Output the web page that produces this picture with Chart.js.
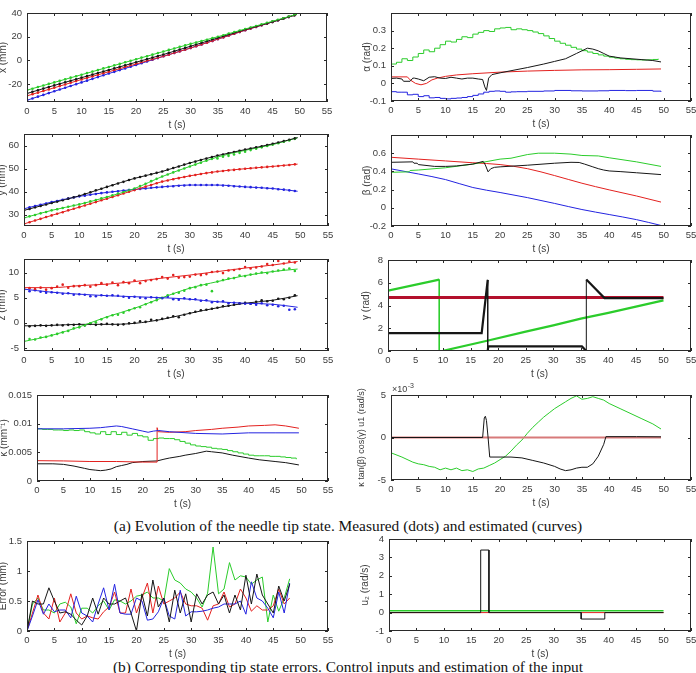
<!DOCTYPE html>
<html>
<head>
<meta charset="utf-8">
<script src="https://cdn.jsdelivr.net/npm/chart.js@4.4.1/dist/chart.umd.min.js"></script>
<style>
  html, body { margin: 0; padding: 0; background: #fff; width: 696px; height: 673px; overflow: hidden; position: relative; }
  canvas { position: absolute; }
  .cap { position: absolute; left: 0; width: 696px; text-align: center; white-space: nowrap;
         font-family: "Liberation Serif", "DejaVu Serif", serif; font-size: 15.4px; color: #111; }
</style>
</head>
<body>
<div class="cap" style="top:517px">(a) Evolution of the needle tip state. Measured (dots) and estimated (curves)</div>
<div class="cap" style="top:658px">(b) Corresponding tip state errors. Control inputs and estimation of the input</div>
<script>
// ---- shared time axis ----
const tTicks = [0, 5, 10, 15, 20, 25, 30, 35, 40, 45, 50, 55];
const tEst = [0, 5, 10, 15, 20, 25, 30, 35, 40, 45, 49.5];
const tMeas = [0,1,2,3,4,5,6,7,8,9,10,11,12,13,14,15,16,17,18,19,20,21,22,23,24,25,26,27,28,29,30,31,32,33,34,35,36,37,38,39,40,41,42,43,44,45,46,47,48,49];

// ---- x (mm) ----
const xTicks = [-20, 0, 20, 40];
const xEstG = [-25, -18.5, -12, -5.5, 1, 7.5, 14, 20, 26.5, 33, 39];
const xEstK = [-27.8, -21, -14.5, -8, -1.5, 5, 12, 19, 26, 32.5, 38.8];
const xEstR = [-29.8, -23, -16, -9.5, -3, 3.5, 10.5, 18, 25.5, 32.5, 38.8];
const xEstB = [-33.5, -26, -18.5, -11, -3.8, 3.5, 10.5, 18, 25.5, 32.5, 38.8];
const xMeasG = [-25,-23.8,-22.3,-21.1,-19.7,-18.5,-17.1,-15.9,-14.5,-13.3,-12,-10.6,-9.4,-8.1,-6.7,-5.5,-4.1,-2.9,-1.5,-0.3,1,2.4,3.6,4.9,6.3,7.5,8.9,10.1,11.5,12.7,14,15.1,16.3,17.5,18.8,20,21.3,22.6,23.9,25.2,26.5,27.8,29.1,30.4,31.7,33,34.3,35.6,37,38.3];
const xMeasK = [-27.8,-26.4,-25.1,-23.7,-22.4,-21,-19.7,-18.4,-17.1,-15.8,-14.5,-13.2,-11.9,-10.6,-9.3,-8,-6.7,-5.4,-4.1,-2.8,-1.5,-0.2,1.1,2.4,3.7,5,6.4,7.8,9.2,10.6,12,13.4,14.8,16.2,17.6,19,20.4,21.8,23.2,24.6,26,27.3,28.6,29.9,31.2,32.5,33.9,35.3,36.7,38.1];
const xMeasR = [-29.8,-28.4,-27.1,-25.7,-24.4,-23,-21.6,-20.2,-18.8,-17.4,-16,-14.7,-13.4,-12.1,-10.8,-9.5,-8.2,-6.9,-5.6,-4.3,-3,-1.7,-0.4,0.9,2.2,3.5,4.9,6.3,7.7,9.1,10.5,12,13.5,15,16.5,18,19.5,21,22.5,24,25.5,26.9,28.3,29.7,31.1,32.5,33.9,35.3,36.7,38.1];
const xMeasB = [-33.5,-32,-30.5,-29,-27.5,-26,-24.5,-23,-21.5,-20,-18.5,-17,-15.5,-14,-12.5,-11,-9.6,-8.1,-6.7,-5.2,-3.8,-2.3,-0.9,0.6,2,3.5,4.9,6.3,7.7,9.1,10.5,12,13.5,15,16.5,18,19.5,21,22.5,24,25.5,26.9,28.3,29.7,31.1,32.5,33.9,35.3,36.7,38.1];

// ---- y (mm) ----
const yTicks = [30, 40, 50, 60];
const yEstK = [31.8, 35, 38.1, 42, 45.7, 48.7, 52.4, 55.6, 58.2, 60.7, 63.4];
const yEstG = [28.5, 31.8, 34.4, 37.6, 41.3, 46.5, 50.9, 55, 57.9, 60.4, 63.4];
const yEstR = [25.9, 29.6, 33.2, 36.9, 40.6, 44.3, 46.8, 48.7, 49.9, 50.9, 51.9];
const yEstB = [32.5, 35.4, 37.9, 39.6, 40.9, 42, 42.8, 42.8, 42, 41.3, 40.1];
const yMeasK = [31.8,32.4,33.1,33.7,34.4,35,35.6,36.2,36.9,37.5,38.1,38.9,39.7,40.5,41.2,42,42.7,43.5,44.2,45,45.7,46.3,46.9,47.5,48.1,48.7,49.5,50.2,50.9,51.7,52.4,53,53.7,54.3,55,55.6,56.1,56.6,57.2,57.7,58.2,58.7,59.2,59.7,60.2,60.7,61.3,61.9,62.5,63.1];
const yMeasG = [28.5,29.2,29.8,30.5,31.1,31.8,32.3,32.8,33.4,33.9,34.4,35,35.7,36.3,37,37.6,38.3,39.1,39.8,40.6,41.3,42.4,43.4,44.5,45.5,46.5,47.4,48.3,49.1,50,50.9,51.7,52.5,53.4,54.2,54.4,55.1,55.5,56.1,56.8,57.3,58,58.6,59.2,59.8,60.4,61,61.6,62.2,62.9];
const yMeasR = [25.9,26.6,27.4,28.1,28.9,29.6,30.3,31,31.8,32.5,33.2,33.9,34.7,35.4,36.2,36.9,37.6,38.4,39.1,39.9,40.6,41.3,42.1,42.8,43.6,44.3,44.8,45.3,45.8,46.3,46.8,47.2,47.6,48,48.3,48.7,48.9,49.2,49.4,49.7,49.9,50.1,50.3,50.5,50.7,50.9,51.1,51.3,51.5,51.8];
const yMeasB = [32.5,33.1,33.7,34.2,34.8,35.4,35.9,36.4,36.9,37.4,37.9,38.2,38.6,38.9,39.3,39.6,39.9,40.1,40.4,40.6,40.9,41.1,41.3,41.6,41.8,42,42.2,42.3,42.5,42.6,42.8,42.8,42.8,42.8,42.8,42.8,42.6,42.5,42.3,42.2,42,41.9,41.7,41.6,41.4,41.3,41,40.8,40.5,40.2];

// ---- z (mm) ----
const zTicks = [-5, 0, 5, 10];
const zEstR = [7, 7, 7.4, 7.7, 8.2, 8.9, 9.5, 10.2, 10.9, 11.5, 12.2];
const zEstB = [6.7, 6.1, 5.7, 5.4, 5.2, 5, 4.7, 4.2, 3.9, 3.7, 3.1];
const zEstG = [-3.7, -2.5, -0.8, 1.2, 2.9, 5, 6.9, 8.2, 9.4, 10.2, 10.7];
const zEstK = [-0.6, -0.5, -0.3, -0.3, -0.1, 0.7, 1.9, 3, 3.9, 4.5, 5.4];
const zMeasR = [6.8,6.9,6.7,7.0,6.6,6.9,7.2,7.6,7.0,7.3,7.3,7.5,7.2,7.5,7.9,7.6,8.0,7.5,8.1,7.9,8.4,7.9,8.3,8.5,8.7,9.1,8.8,9.5,9.0,9.1,9.2,9.6,9.5,9.7,10.1,10.2,9.9,10.4,10.5,10.7,11.1,10.8,11.0,11.2,11.7,11.5,12.3,11.8,12.2,12.0];
const zMeasB = [6.6,6.3,6.5,6.2,6.0,6.1,6.0,5.8,5.9,5.6,5.7,5.6,5.3,5.3,5.5,5.4,5.5,5.4,5.2,5.0,5.2,5.0,4.9,5.1,5.0,4.9,5.2,4.7,4.6,4.9,4.7,4.7,4.4,4.5,4.1,4.2,4.3,3.9,4.0,3.8,3.8,3.8,3.6,3.9,3.5,3.6,3.3,3.4,2.6,2.7];
const zMeasG = [-3.6,-3.2,-3.3,-2.9,-2.8,-2.5,-2.2,-1.9,-1.6,-1.1,-0.9,-0.5,-0.1,0.1,0.7,1.1,1.5,1.6,2.0,2.5,2.9,3.1,3.7,4.1,4.5,5.0,5.5,5.8,6.0,6.4,6.9,7.1,7.5,7.6,6.3,8.2,8.5,8.8,8.9,9.4,9.3,9.6,9.8,10.0,9.9,10.2,10.4,10.6,10.8,10.3];
const zMeasK = [-0.5,-0.7,-0.6,-0.5,-0.6,-0.5,-0.4,-0.5,-0.4,-0.4,-0.3,-0.5,-0.2,-0.4,-0.3,-0.2,-0.3,-0.4,-0.3,-0.1,0,0.3,0.2,0.6,0.5,0.8,1.0,1.3,1.1,1.6,1.9,2.2,2.5,2.6,2.8,3.0,3.3,3.4,3.6,3.9,4.0,3.8,4.2,4.5,4.3,4.4,4.8,4.7,5.0,5.5];

// ---- alpha (rad) ----
const aTicks = [-0.1, 0, 0.1, 0.2, 0.3];
const aGreen = [0.11,0.12,0.14,0.13,0.15,0.17,0.19,0.18,0.20,0.22,0.24,0.235,0.25,0.265,0.26,0.28,0.29,0.30,0.295,0.31,0.315,0.318,0.305,0.31,0.305,0.30,0.292,0.283,0.27,0.255,0.24,0.228,0.217,0.205,0.195,0.186,0.178,0.17,0.162,0.155,0.149,0.144,0.14,0.137,0.135,0.134,0.133,0.134,0.136,0.14];
const aRedT = [0,3,3.5,4.5,5.5,6.5,7.5,8.5,10,12,15,20,25,30,35,40,45,49.5];
const aRed = [0.037,0.037,0.02,0.0,-0.008,0.0,0.02,0.03,0.04,0.048,0.055,0.064,0.07,0.074,0.077,0.078,0.08,0.082];
const aBlkT = [0,1,2,2.3,3.5,4,4.3,5,6,7,8,9,10,11,12,13,14,15,16,16.8,17.2,17.5,17.9,18.5,20,22,25,28,30,32,33,34,35,36,37,38,39,40,42,44,46,48,49.5];
const aBlk = [0.028,0.03,0.025,0.012,0.012,0.03,0.03,0.025,0.015,0.035,0.038,0.03,0.028,0.035,0.03,0.025,0.03,0.03,0.025,0.022,-0.02,-0.04,0.03,0.05,0.06,0.072,0.09,0.11,0.125,0.14,0.155,0.17,0.185,0.2,0.195,0.185,0.17,0.155,0.145,0.14,0.135,0.13,0.122];
const aBluT = [0,1,2,3,4,5,6,7,8,9,10,11,12,13,14,15,16,17,18,19,20,21,22,23,25,28,30,33,35,38,40,43,45,48,49.5];
const aBlu = [-0.047,-0.05,-0.05,-0.065,-0.062,-0.075,-0.07,-0.082,-0.08,-0.085,-0.088,-0.085,-0.083,-0.08,-0.075,-0.068,-0.06,-0.05,-0.045,-0.043,-0.045,-0.05,-0.048,-0.047,-0.045,-0.043,-0.04,-0.042,-0.043,-0.042,-0.04,-0.041,-0.04,-0.044,-0.048];

// ---- beta (rad) ----
const bTicks = [-0.2, 0, 0.2, 0.4, 0.6];
const bRed = [0.555, 0.535, 0.515, 0.495, 0.475, 0.43, 0.354, 0.27, 0.197, 0.13, 0.063];
const bBlu = [0.428, 0.372, 0.31, 0.223, 0.168, 0.112, 0.048, -0.019, -0.074, -0.13, -0.194];
const bGrnT = [0,3.3,3.5,5,10,15,20,22,25,27,30,33,35,38,40,45,49.5];
const bGrn = [0.39,0.395,0.41,0.415,0.44,0.48,0.535,0.545,0.585,0.6,0.6,0.59,0.575,0.57,0.55,0.505,0.455];
const bBlkT = [0,4,4.2,4.8,5,8,10,12,15,16.9,17.3,17.8,18.3,19,20,25,30,33,34.5,35.5,37,38,39,40,42,45,49.5];
const bBlk = [0.5,0.505,0.49,0.49,0.475,0.455,0.455,0.46,0.48,0.51,0.47,0.395,0.43,0.445,0.45,0.468,0.49,0.5,0.498,0.48,0.45,0.43,0.415,0.405,0.398,0.385,0.365];

// ---- gamma (rad) ----
const gTicks = [0, 2, 4, 6, 8];
const gRedT = [0, 50];
const gRed = [4.71, 4.71];
const gGrnT = [0, 9.3, 9.3, 10, 18, 25, 30, 35, 40, 45, 50];
const gGrn = [5.3, 6.28, 0, 0.02, 0.9, 1.7, 2.25, 2.85, 3.35, 3.9, 4.45];
const gBlkT = [0, 17, 18.1, 18.1, 18.2, 35.2, 36, 36, 39.3, 50];
const gBlk = [1.57, 1.57, 6.25, 0, 0.4, 0.4, 0, 6.28, 4.65, 4.65];

// ---- kappa (mm^-1) ----
const kTicks = [0, 0.005, 0.01, 0.015];
const kBluT = [0,5,10,12,13,14,15,16,17,18,20,21,22,23,25,30,35,40,45,49.5];
const kBlu = [0.0091,0.0091,0.0092,0.0093,0.0094,0.0095,0.0096,0.0095,0.0093,0.0091,0.0087,0.0085,0.0087,0.0088,0.0086,0.0083,0.0082,0.0084,0.0084,0.0084];
const kRedT = [0,5,10,15,20,22.7,22.7,22.9,25,28,30,33,35,38,40,43,45,47,49.5];
const kRed = [0.00355,0.0035,0.0034,0.0034,0.0033,0.0033,0.0093,0.0086,0.0085,0.0086,0.0088,0.009,0.0092,0.0094,0.0096,0.0097,0.0098,0.0096,0.0092];
const kGrn = [0.0091,0.009,0.009,0.0089,0.0089,0.0088,0.0089,0.0088,0.0089,0.0086,0.0084,0.0082,0.0086,0.0081,0.0086,0.0081,0.0085,0.008,0.0083,0.0079,0.0077,0.0071,0.0074,0.0075,0.0074,0.0074,0.0072,0.0069,0.0066,0.0063,0.0061,0.006,0.0059,0.0057,0.0056,0.0055,0.0053,0.0051,0.0049,0.0047,0.0045,0.0044,0.0044,0.0044,0.0043,0.0043,0.0042,0.0041,0.004,0.0038];
const kBlkT = [0,3,5,7,9,10,11,12,13,14,15,16,17,18,20,22.7,24,25,27,28,30,31,32,33,35,37,40,42,45,47,49.5];
const kBlk = [0.003,0.003,0.0029,0.0026,0.0022,0.002,0.0019,0.0018,0.0019,0.0021,0.0025,0.0027,0.0029,0.0032,0.0034,0.0035,0.0038,0.004,0.0043,0.0045,0.0048,0.005,0.0052,0.0051,0.0049,0.0045,0.004,0.0037,0.0034,0.0032,0.0028];

// ---- kappa tan(beta) cos(gamma) u1, in units of 1e-3 rad/s ----
const uTicks = [-5, 0, 5];
const uRedT = [0, 49.5];
const uRed = [0, 0];
const uBlkT = [0,16.8,17.1,17.3,17.5,17.8,18.1,20,22,24,26,28,30,31,32,33,34,35,36,37,38,39,39.4,45,49.5];
const uBlk = [0,0,2.3,2.5,2.0,0,-2.3,-2.3,-2.3,-2.4,-2.7,-3.0,-3.4,-3.7,-3.9,-3.8,-3.6,-3.5,-3.5,-3.1,-2.2,-0.8,0.1,0.1,0.08];
const uGrnT = [0,2,4,5,6,7,8,9,10,11,12,13,14,15,16,17,18,19,20,21,22,23,24,25,26,27,28,29,30,31,32,33,34,35,36,37,38,39,40,42,44,46,48,49.5];
const uGrn = [-1.8,-2.3,-2.9,-3.1,-3.2,-3.4,-3.5,-3.8,-3.6,-3.8,-3.6,-3.9,-3.8,-4.0,-3.7,-3.6,-3.3,-3.0,-2.6,-2.2,-1.6,-0.9,-0.3,0.5,1.2,1.8,2.4,2.9,3.4,3.8,4.2,4.6,4.9,4.5,4.6,4.8,4.6,4.4,4.0,3.4,2.8,2.2,1.6,1.0];

// ---- error (mm) ----
const eTicks = [0, 0.5, 1, 1.5];
const eT = [0,1,2,3,4,5,6,7,8,9,10,11,12,13,14,15,16,17,18,19,20,21,22,23,24,25,26,27,28,29,30,31,32,33,34,35,36,37,38,39,40,41,42,43,44,45,46,47,48];
const eGrn = [0,0.45,0.55,0.35,0.35,0.3,0.45,0.48,0.4,0.12,0.38,0.38,0.3,0.42,0.5,0.35,0.52,0.5,0.45,0.5,0.58,0.6,0.65,0.55,0.55,0.5,1.04,0.85,0.8,0.7,0.65,0.55,0.4,0.63,1.4,0.62,0.7,1.14,0.85,0.92,0.9,0.78,0.85,0.9,0.15,0.6,0.33,0.55,0.87];
const eRed = [0,0.3,0.6,0.3,0.2,0.55,0.15,0.3,0.62,0.3,0.2,0.25,0.22,0.2,0.32,0.4,0.65,0.3,0.3,0.7,0.3,0.55,0.8,0.3,0.75,0.45,0.5,0.55,0.65,0.45,0.42,0.42,0.38,0.18,0.42,0.45,0.65,0.4,0.45,0.7,0.55,0.33,0.42,0.35,0.35,0.42,0.7,0.45,0.55];
const eBlu = [0,0.25,0.52,0.28,0.45,0.32,0.35,0.35,0.22,0.58,0.3,0.25,0.15,0.45,0.72,0.35,0.78,0.3,0.28,0.28,0.55,0.5,0.18,0.2,0.32,0.55,0.25,0.2,0.68,0.25,0.32,0.32,0.33,0.35,0.38,0.4,0.45,0.45,0.45,0.5,0.28,0.82,0.55,0.5,0.38,0.22,0.65,0.3,0.8];
const eBlk = [0,0.5,0.45,0.45,0.72,0.5,0.3,0.32,0.28,0.18,0.1,0.25,0.55,0.28,0.55,0.45,0.45,0.5,0.55,0.3,0.0,0.62,0.25,0.85,0.4,0.55,0.15,0.68,0.3,0.62,0.15,0.62,0.45,0.6,0.65,0.45,0.6,0.3,0.6,0.35,0.93,0.45,0.95,0.6,0.45,0.3,0.75,0.5,0.78];

// ---- u2 (rad/s) ----
const u2Ticks = [-1, 0, 1, 2, 3, 4];
const u2GrnT = [0, 50];
const u2Grn = [0.1, 0.1];
const u2RedT = [0, 50];
const u2Red = [0, 0];
const u2BlkT = [0, 16.7, 16.7, 18.2, 18.2, 35, 35, 39.3, 39.3, 50];
const u2Blk = [0, 0, 3.4, 3.4, 0, 0, -0.35, -0.35, 0, 0];

// ---- style ----
const RED = '#e3211f', GRN = '#2bcc2b', BLU = '#2323e0', BLK = '#161616';
const FONT = '"Liberation Sans", Arial, sans-serif';
const AXC = '#3c3c3c';

const pts = (ts, ys) => ts.map((t, i) => ({ x: t, y: ys[i] }));
const curve = (ts, ys, color, extra = {}) => ({
  data: pts(ts, ys), borderColor: color, borderWidth: 1, pointRadius: 0, fill: false, ...extra
});
const smooth = (ys, color) => curve(tEst, ys, color, { cubicInterpolationMode: 'monotone' });
const dots = (ys, color) => ({
  data: pts(tMeas, ys), showLine: false, pointRadius: 1.3, pointBorderWidth: 0,
  pointBackgroundColor: color, borderColor: color
});

// box around plot with inward ticks, like the original axes
const frame = {
  id: 'frame',
  afterDatasetsDraw(chart) {
    const { ctx, chartArea: a, scales: { x, y } } = chart;
    ctx.save();
    ctx.strokeStyle = '#2a2a2a';
    ctx.lineWidth = 1;
    ctx.strokeRect(a.left + 0.5, a.top + 0.5, a.right - a.left - 1, a.bottom - a.top - 1);
    ctx.beginPath();
    x.ticks.forEach(t => {
      const p = Math.round(x.getPixelForValue(t.value)) + 0.5;
      ctx.moveTo(p, a.bottom); ctx.lineTo(p, a.bottom - 3);
      ctx.moveTo(p, a.top); ctx.lineTo(p, a.top + 3);
    });
    y.ticks.forEach(t => {
      const p = Math.round(y.getPixelForValue(t.value)) + 0.5;
      ctx.moveTo(a.left, p); ctx.lineTo(a.left + 3, p);
      ctx.moveTo(a.right, p); ctx.lineTo(a.right - 3, p);
    });
    ctx.stroke();
    ctx.restore();
  }
};

// "x10^-3" multiplier above the kappa*tan*cos axis
const expLabel = {
  id: 'expLabel',
  afterDraw(chart) {
    const { ctx, chartArea: a } = chart;
    ctx.save();
    ctx.fillStyle = AXC;
    ctx.font = '9px ' + FONT;
    ctx.fillText('\u00d710', a.left + 1, a.top - 3);
    const w = ctx.measureText('\u00d710').width;
    ctx.font = '7px ' + FONT;
    ctx.fillText('-3', a.left + 1 + w + 0.5, a.top - 7);
    ctx.restore();
  }
};

function makePanel(box, yOff, yLabel, yMin, yMax, yTicksArr, datasets, opts = {}) {
  const padL = yOff + 7, padT = opts.padT || 20, padR = 8, padB = 30;
  const [l, t, r, b] = box;
  const w = r - l + padL + padR, h = b - t + padT + padB;
  const cv = document.createElement('canvas');
  cv.width = w; cv.height = h;
  cv.style.width = w + 'px'; cv.style.height = h + 'px';
  cv.style.left = (l - padL) + 'px'; cv.style.top = (t - padT) + 'px';
  document.body.appendChild(cv);
  return new Chart(cv.getContext('2d'), {
    type: 'line',
    data: { datasets },
    options: {
      responsive: false, animation: false, devicePixelRatio: 1,
      layout: { padding: { top: padT, right: padR, left: 0, bottom: 0 } },
      plugins: { legend: { display: false }, tooltip: { enabled: false } },
      scales: {
        x: {
          type: 'linear', min: 0, max: 55,
          afterBuildTicks: s => { s.ticks = tTicks.map(v => ({ value: v })); },
          afterFit: s => { s.height = padB; s.paddingLeft = 0; s.paddingRight = 0; },
          grid: { display: false, drawTicks: false }, border: { display: false },
          ticks: { padding: 4, autoSkip: false, maxRotation: 0, color: AXC, font: { family: FONT, size: 9.5 } },
          title: { display: true, text: 't (s)', color: AXC, font: { family: FONT, size: 10 }, padding: { top: 0, bottom: 1 } }
        },
        y: {
          type: 'linear', min: yMin, max: yMax,
          afterBuildTicks: s => { s.ticks = yTicksArr.map(v => ({ value: v })); },
          afterFit: s => { s.width = padL; s.paddingTop = 0; s.paddingBottom = 0; },
          grid: { display: false, drawTicks: false }, border: { display: false },
          ticks: { padding: 5, autoSkip: false, color: AXC, font: { family: FONT, size: 9.5 }, callback: v => String(v) },
          title: { display: true, text: yLabel, color: AXC, font: { family: FONT, size: opts.titleSize || 10 }, padding: { top: 1, bottom: 0 } }
        }
      }
    },
    plugins: [frame].concat(opts.plugins || [])
  });
}

// left column
makePanel([27, 13, 327, 102], 24, 'x (mm)', -35, 40, xTicks, [
  smooth(xEstG, GRN), smooth(xEstK, BLK), smooth(xEstR, RED), smooth(xEstB, BLU),
  dots(xMeasG, GRN), dots(xMeasK, BLK), dots(xMeasR, RED), dots(xMeasB, BLU)
]);
makePanel([24, 134, 328, 226], 22, 'y (mm)', 25, 65, yTicks, [
  smooth(yEstK, BLK), smooth(yEstG, GRN), smooth(yEstR, RED), smooth(yEstB, BLU),
  dots(yMeasK, BLK), dots(yMeasG, GRN), dots(yMeasR, RED), dots(yMeasB, BLU)
]);
makePanel([24, 259, 328, 351], 22, 'z (mm)', -5.6, 12.7, zTicks, [
  smooth(zEstR, RED), smooth(zEstB, BLU), smooth(zEstG, GRN), smooth(zEstK, BLK),
  dots(zMeasR, RED), dots(zMeasB, BLU), dots(zMeasG, GRN), dots(zMeasK, BLK)
]);
makePanel([37, 395, 328, 481], 33, '\u03ba (mm\u207b\u00b9)', 0, 0.015, kTicks, [
  curve(kBluT, kBlu, BLU), curve(kRedT, kRed, RED),
  curve(tMeas, kGrn, GRN, { stepped: true }), curve(kBlkT, kBlk, BLK)
]);
makePanel([27, 541, 328, 631], 24, 'Error (mm)', 0, 1.5, eTicks, [
  curve(eT, eBlk, BLK), curve(eT, eBlu, BLU), curve(eT, eRed, RED), curve(eT, eGrn, GRN)
]);

// right column
makePanel([391, 13, 691, 101], 24, '\u03b1 (rad)', -0.1, 0.4, aTicks, [
  curve(aBlkT, aBlk, BLK), curve(tMeas, aGreen, GRN, { stepped: true }),
  curve(aRedT, aRed, RED), curve(aBluT, aBlu, BLU, { stepped: true })
]);
makePanel([391, 135, 691, 226], 24, '\u03b2 (rad)', -0.2, 0.8, bTicks, [
  curve(bBlkT, bBlk, BLK), curve(bGrnT, bGrn, GRN),
  smooth(bRed, RED), smooth(bBlu, BLU)
]);
const thinVertical = { borderWidth: c => (c.p0.parsed.x === c.p1.parsed.x ? 1 : 2.2) };
makePanel([388, 260, 691, 351], 22, '\u03b3 (rad)', 0, 8, gTicks, [
  curve(gBlkT, gBlk, BLK, { borderWidth: 2.2, segment: thinVertical }),
  curve(gRedT, gRed, '#b3102c', { borderWidth: 3 }),
  curve(gGrnT, gGrn, GRN, { borderWidth: 2.2, segment: thinVertical })
]);
makePanel([391, 395, 691, 480], 29, '\u03ba tan(\u03b2) cos(\u03b3) u1 (rad/s)', -5, 5, uTicks, [
  curve(uBlkT, uBlk, BLK), curve(uRedT, uRed, '#d77a7a', { borderWidth: 2 }), curve(uGrnT, uGrn, GRN)
], { titleSize: 9, padT: 24, plugins: [expLabel] });
makePanel([389, 539, 691, 631], 24, 'u\u2082 (rad/s)', -1, 4, u2Ticks, [
  curve(u2BlkT, u2Blk, BLK), curve(u2RedT, u2Red, RED), curve(u2GrnT, u2Grn, GRN, { borderWidth: 1.5 })
]);
</script>
</body>
</html>
